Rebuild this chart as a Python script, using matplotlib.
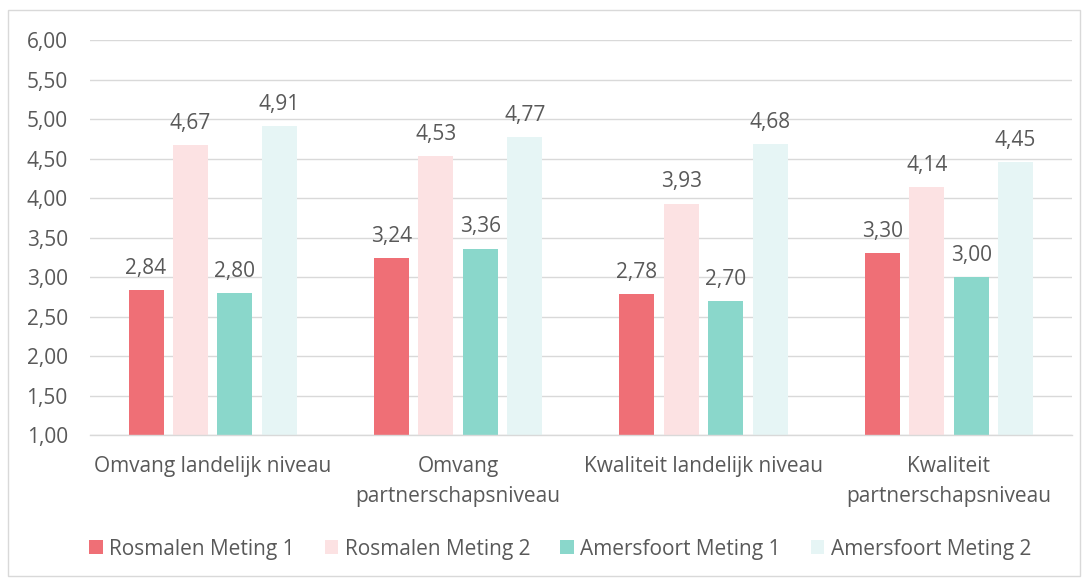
import matplotlib as mpl

mpl.use("Agg")

import matplotlib.pyplot as plt
import numpy as np
from matplotlib.patches import Rectangle

plt.rcParams.update({"font.family": ["Open Sans", "DejaVu Sans"]})

categories = [
    "Omvang landelijk niveau",
    "Omvang\npartnerschapsniveau",
    "Kwaliteit landelijk niveau",
    "Kwaliteit\npartnerschapsniveau",
]
series_names = [
    "Rosmalen Meting 1",
    "Rosmalen Meting 2",
    "Amersfoort Meting 1",
    "Amersfoort Meting 2",
]
rosmalen_1 = [2.84, 3.24, 2.78, 3.30]
rosmalen_2 = [4.67, 4.53, 3.93, 4.14]
amersfoort_1 = [2.80, 3.36, 2.70, 3.00]
amersfoort_2 = [4.91, 4.77, 4.68, 4.45]
yticks = [1.0, 1.5, 2.0, 2.5, 3.0, 3.5, 4.0, 4.5, 5.0, 5.5, 6.0]

colors = ["#EF6F76", "#FCE2E3", "#8AD7CB", "#E6F5F5"]
text_color = "#595959"
grid_color = "#D9D9D9"
fs = 15

fig = plt.figure(figsize=(10.88, 5.79), dpi=100)
ax = fig.add_axes([0.0827, 0.2487, 0.9023, 0.6822])

# outer chart border
fig.patches.append(Rectangle((8 / 1088, 3 / 579), 1072 / 1088, 566 / 579,
                             transform=fig.transFigure, fill=False,
                             edgecolor=grid_color, lw=1.0))

x = np.arange(len(categories))
pitch = 0.181
width = 0.143
all_series = [rosmalen_1, rosmalen_2, amersfoort_1, amersfoort_2]
for i, (vals, name, col) in enumerate(zip(all_series, series_names, colors)):
    pos = x + (i - 1.5) * pitch
    bars = ax.bar(pos, np.array(vals) - 1.0, width, bottom=1.0, color=col,
                  label=name, zorder=3)
    for b, v in zip(bars, vals):
        ax.annotate(f"{v:.2f}".replace(".", ","), (b.get_x() + b.get_width() / 2, v),
                    xytext=(0, 8), textcoords="offset points", ha="center",
                    va="bottom", fontsize=fs, color=text_color)

ax.set_xlim(-0.5, len(categories) - 0.5)
ax.set_ylim(1.0, 6.0)
ax.set_yticks(yticks)
ax.set_yticklabels([f"{t:.2f}".replace(".", ",") for t in yticks])
ax.set_xticks(x)
ax.set_xticklabels(categories, linespacing=1.55)
ax.tick_params(axis="y", length=0, pad=16, labelsize=fs, labelcolor=text_color)
ax.tick_params(axis="x", length=0, pad=15, labelsize=fs, labelcolor=text_color)
ax.grid(axis="y", color=grid_color, lw=1.0, zorder=0)
for side in ["top", "right", "left"]:
    ax.spines[side].set_visible(False)
ax.spines["bottom"].set_color(grid_color)
ax.spines["bottom"].set_linewidth(1.0)
ax.spines["bottom"].set_zorder(4)

fig.legend(loc="center", bbox_to_anchor=(0.5147, 1 - 549 / 579), ncol=4,
           frameon=False, fontsize=fs, labelcolor=text_color,
           handlelength=0.65, handleheight=0.65, handletextpad=0.3,
           columnspacing=1.45)

plt.savefig("out.png", dpi=100)
plt.close()
